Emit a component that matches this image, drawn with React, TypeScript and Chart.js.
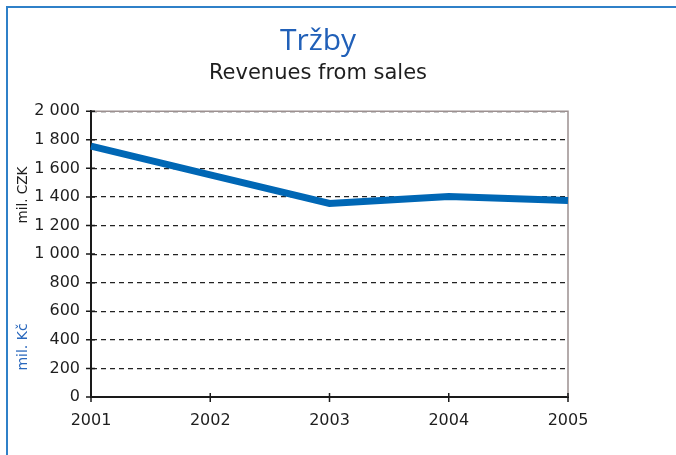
import React, { useEffect, useRef } from "react";
import { Chart, registerables } from "chart.js";

Chart.register(...registerables);

const CATEGORIES = ["2001", "2002", "2003", "2004", "2005"];
const REVENUES = [1755, 1555, 1355, 1403, 1375];
const Y_TICK_VALUES = [0, 200, 400, 600, 800, 1000, 1200, 1400, 1600, 1800, 2000];
const Y_TICK_LABELS = ["0", "200", "400", "600", "800", "1 000", "1 200", "1 400", "1 600", "1 800", "2 000"];
const TITLE = "Tržby";
const SUBTITLE = "Revenues from sales";
const Y_TITLE_EN = "mil. CZK";
const Y_TITLE_CZ = "mil. Kč";

const decorPlugin = {
  id: "decor",
  beforeDraw(chart: any) {
    const ctx = chart.ctx;
    ctx.save();
    ctx.strokeStyle = "#2f80c8";
    ctx.lineWidth = 2;
    ctx.beginPath();
    ctx.moveTo(7, chart.height);
    ctx.lineTo(7, 7);
    ctx.lineTo(chart.width, 7);
    ctx.stroke();
    ctx.restore();
  },
  beforeDatasetsDraw(chart: any) {
    const ctx = chart.ctx;
    const a = chart.chartArea;
    ctx.save();
    ctx.strokeStyle = "#9c9090";
    ctx.lineWidth = 1.5;
    ctx.beginPath();
    ctx.moveTo(a.left, a.top);
    ctx.lineTo(a.right, a.top);
    ctx.lineTo(a.right, a.bottom);
    ctx.stroke();
    ctx.restore();
  },
  afterDraw(chart: any) {
    const ctx = chart.ctx;
    const a = chart.chartArea;
    const xs = chart.scales.x;
    const ys = chart.scales.y;
    ctx.save();
    ctx.strokeStyle = "#1a1a1a";
    ctx.lineWidth = 1.5;
    ctx.beginPath();
    ys.ticks.forEach((t: any, i: number) => {
      const p = ys.getPixelForTick(i);
      ctx.moveTo(a.left - 5, p);
      ctx.lineTo(a.left + 4, p);
    });
    xs.ticks.forEach((t: any, i: number) => {
      const p = xs.getPixelForTick(i);
      ctx.moveTo(p, a.bottom - 4);
      ctx.lineTo(p, a.bottom + 5);
    });
    ctx.stroke();

    ctx.textAlign = "center";
    ctx.textBaseline = "middle";
    ctx.translate(23, 0);
    ctx.rotate(-Math.PI / 2);
    ctx.font = "13.5px 'DejaVu Sans'";
    ctx.fillStyle = "#1e1e1e";
    ctx.fillText(Y_TITLE_EN, -195, 0);
    ctx.font = "14px 'DejaVu Sans'";
    ctx.fillStyle = "#2a68bd";
    ctx.fillText(Y_TITLE_CZ, -347, 0);
    ctx.restore();
  },
};

export default function App() {
  const ref = useRef<HTMLCanvasElement | null>(null);

  useEffect(() => {
    if (!ref.current) return;
    Chart.defaults.font.family = "'DejaVu Sans'";
    const chart = new Chart(ref.current, {
      type: "line",
      data: {
        labels: CATEGORIES,
        datasets: [
          {
            data: REVENUES,
            borderColor: "#0067b5",
            borderWidth: 7,
            pointRadius: 0,
            tension: 0,
            fill: false,
            yAxisID: "y",
          },
        ],
      },
      options: {
        responsive: false,
        animation: false,
        layout: { padding: { left: 0, right: 40, top: 0, bottom: 18 } },
        plugins: {
          legend: { display: false },
          tooltip: { enabled: false },
          title: {
            display: true,
            text: TITLE,
            color: "#2160b8",
            font: { family: "'Open Sans'", size: 30, weight: "normal", lineHeight: 1.2 },
            padding: { top: 23, bottom: 0 },
          },
          subtitle: {
            display: true,
            text: SUBTITLE,
            color: "#1e1e1e",
            font: { family: "'DejaVu Sans'", size: 21, weight: "normal", lineHeight: 1.2 },
            padding: { top: 2, bottom: 25 },
          },
        },
        scales: {
          x: {
            type: "category",
            offset: false,
            grid: { display: false, drawTicks: false },
            border: { display: true, color: "#1a1a1a", width: 2 },
            ticks: { color: "#1e1e1e", font: { size: 16 }, padding: 14, maxRotation: 0 },
            afterFit(scale: any) {
              scale.height = 40;
            },
          },
          y: {
            position: "left",
            min: 0,
            max: 2000,
            afterBuildTicks(scale: any) {
              scale.ticks = Y_TICK_VALUES.map((v) => ({ value: v }));
            },
            grid: { color: "#222222", lineWidth: 1.2, drawTicks: false },
            border: { display: true, color: "#1a1a1a", width: 2, dash: [5, 4] },
            ticks: {
              color: "#1e1e1e",
              font: { size: 16 },
              padding: 11,
              callback: (v: any) => {
                const i = Y_TICK_VALUES.indexOf(Number(v));
                return i >= 0 ? Y_TICK_LABELS[i] : "";
              },
            },
            afterFit(scale: any) {
              scale.width = 91;
            },
          },
          yRight: {
            position: "right",
            min: 0,
            max: 2000,
            grid: { display: false, drawTicks: false },
            border: { display: false },
            ticks: { display: false },
            afterFit(scale: any) {
              scale.width = 68;
            },
          },
        },
      },
      plugins: [decorPlugin],
    });
    return () => chart.destroy();
  }, []);

  return (
    <div style={{ position: "absolute", left: 0, top: 0, width: 676, height: 455, background: "#fff" }}>
      <canvas ref={ref} width={676} height={455} style={{ width: 676, height: 455, display: "block" }} />
    </div>
  );
}
